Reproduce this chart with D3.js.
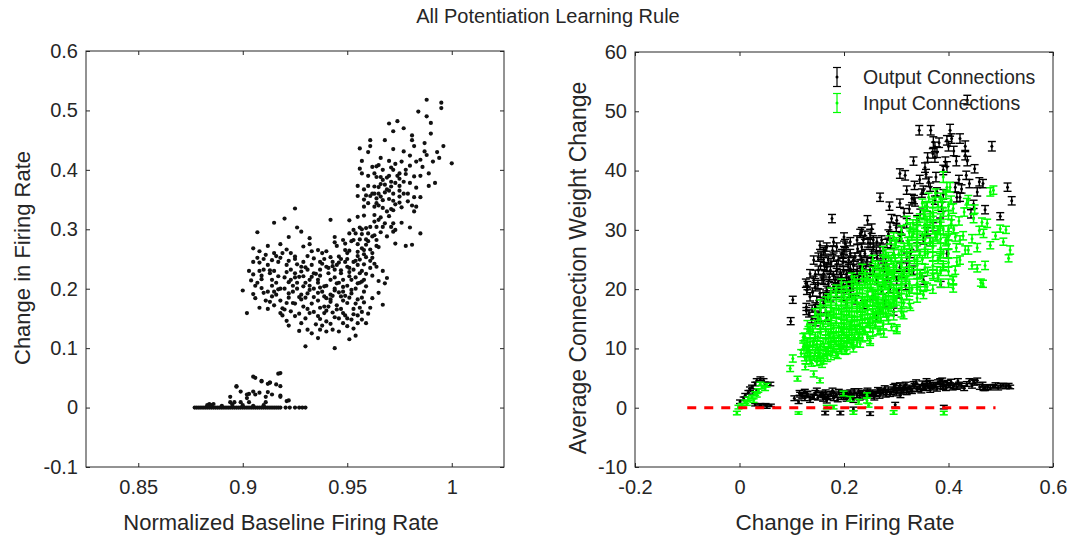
<!DOCTYPE html>
<html><head><meta charset="utf-8">
<script src="https://cdn.jsdelivr.net/npm/d3@7"></script>
<style>
body{margin:0;background:#fff}
svg text{font-family:"Liberation Sans",Arial,Helvetica,sans-serif;fill:#262626}
</style>
</head><body>
<svg id="fig" width="1073" height="539"></svg>
<script>
// ---- Left panel: [normalized baseline firing rate, change in firing rate] ----
const firingPoints = [
[0.988,0.518],[0.995,0.513],[0.995,0.504],[0.984,0.498],[0.988,0.490],[0.990,0.479],[0.970,0.478],[0.974,0.482],[0.972,0.465],[0.977,0.470],[0.981,0.458],[0.990,0.461],[0.961,0.450],[0.968,0.450],[0.981,0.450],[0.961,0.440],[0.956,0.436],[0.982,0.440],[0.987,0.445],[0.972,0.435],[0.977,0.431],[0.980,0.424],[0.987,0.431],[0.988,0.425],[0.976,0.414],[0.985,0.417],[0.994,0.420],[0.991,0.414],[1.000,0.411],[0.965,0.408],[0.964,0.406],[0.980,0.407],[0.983,0.414],[0.956,0.402],[0.957,0.394],[0.962,0.405],[0.967,0.400],[0.971,0.404],[0.972,0.400],[0.975,0.394],[0.978,0.393],[0.982,0.389],[0.989,0.394],[0.992,0.378],[0.989,0.373],[0.963,0.394],[0.964,0.388],[0.966,0.388],[0.967,0.383],[0.969,0.387],[0.971,0.380],[0.973,0.378],[0.975,0.373],[0.971,0.372],[0.969,0.367],[0.966,0.376],[0.965,0.371],[0.963,0.372],[0.960,0.373],[0.955,0.373],[0.958,0.367],[0.955,0.356],[0.959,0.357],[0.961,0.356],[0.964,0.352],[0.966,0.355],[0.967,0.349],[0.970,0.351],[0.972,0.348],[0.975,0.355],[0.979,0.347],[0.982,0.354],[0.985,0.354],[0.981,0.340],[0.983,0.338],[0.982,0.330],[0.964,0.344],[0.965,0.340],[0.960,0.344],[0.958,0.338],[0.963,0.338],[0.976,0.337],[0.971,0.334],[0.972,0.332],[0.925,0.335],
[0.915,0.311],[0.920,0.318],[0.942,0.316],[0.907,0.295],[0.926,0.303],[0.928,0.296],[0.922,0.287],[0.932,0.285],[0.944,0.287],[0.944,0.278],[0.951,0.315],[0.955,0.321],[0.958,0.323],[0.963,0.324],[0.963,0.313],[0.965,0.316],[0.967,0.304],[0.964,0.304],[0.961,0.304],[0.959,0.302],[0.956,0.303],[0.953,0.299],[0.951,0.293],[0.954,0.293],[0.957,0.292],[0.960,0.293],[0.962,0.288],[0.959,0.283],[0.956,0.283],[0.953,0.282],[0.972,0.310],[0.971,0.304],[0.976,0.311],[0.973,0.299],[0.969,0.288],[0.972,0.296],[0.980,0.303],[0.985,0.293],[0.973,0.276],[0.978,0.272],[0.981,0.274],[0.964,0.272],[0.949,0.265],[0.949,0.276],[0.945,0.272],[0.948,0.282],[0.957,0.268],[0.959,0.274],
[0.905,0.268],[0.908,0.263],[0.912,0.272],[0.915,0.260],[0.916,0.255],[0.918,0.275],[0.921,0.266],[0.923,0.260],[0.925,0.254],[0.929,0.271],[0.932,0.275],[0.933,0.263],[0.936,0.265],[0.938,0.260],[0.940,0.263],[0.942,0.253],[0.946,0.254],[0.950,0.260],[0.951,0.264],[0.955,0.255],[0.956,0.249],[0.959,0.253],[0.961,0.247],[0.963,0.242],[0.964,0.237],[0.967,0.230],[0.969,0.218],[0.968,0.209],[0.965,0.193],[0.961,0.168],[0.967,0.173],[0.959,0.142],[0.951,0.115],[0.954,0.121],[0.944,0.100],[0.930,0.103],[0.936,0.117],[0.940,0.128],[0.927,0.129],[0.931,0.131],[0.937,0.131],[0.942,0.141],[0.946,0.128],[0.950,0.137],[0.955,0.142],
[0.902,0.159],[0.900,0.197],[0.905,0.191],[0.905,0.224],[0.909,0.216],[0.909,0.201],[0.908,0.244],[0.910,0.232],[0.912,0.240],[0.913,0.226],[0.912,0.166],[0.918,0.159],[0.919,0.167],[0.921,0.146],[0.925,0.154],[0.914,0.205],[0.915,0.195],[0.914,0.187],[0.916,0.210],[0.918,0.200],[0.920,0.219],[0.922,0.211],[0.922,0.192],[0.924,0.176],[0.928,0.182],[0.929,0.170],[0.932,0.159],[0.936,0.154],[0.939,0.159],[0.937,0.168],[0.941,0.170],[0.945,0.165],[0.948,0.159],[0.953,0.166],[0.957,0.161],[0.950,0.176],[0.947,0.187],[0.944,0.197],[0.948,0.203],[0.952,0.198],[0.955,0.209],[0.958,0.215],[0.959,0.204],[0.956,0.226],[0.953,0.232],[0.950,0.237],[0.947,0.226],[0.944,0.232],[0.940,0.237],[0.937,0.232],[0.934,0.226],[0.931,0.232],[0.928,0.237],[0.925,0.226],[0.923,0.232],[0.926,0.210],[0.929,0.204],[0.932,0.198],[0.936,0.193],[0.939,0.187],[0.942,0.182],[0.939,0.204],[0.936,0.215],[0.932,0.215],[0.929,0.221],[0.942,0.215],[0.945,0.209],[0.948,0.215],[0.951,0.221],
[0.915,0.230],[0.917,0.245],[0.919,0.260],[0.921,0.240],[0.923,0.215],[0.925,0.250],[0.927,0.220],[0.929,0.245],[0.931,0.255],[0.933,0.240],[0.935,0.225],[0.937,0.245],[0.939,0.250],[0.941,0.235],[0.943,0.245],[0.945,0.240],[0.947,0.250],[0.949,0.245],[0.951,0.235],[0.953,0.245],[0.955,0.240],[0.957,0.230],[0.959,0.225],[0.961,0.235],
[0.916,0.190],[0.918,0.180],[0.920,0.200],[0.922,0.185],[0.924,0.195],[0.926,0.200],[0.928,0.190],[0.930,0.210],[0.932,0.205],[0.934,0.200],[0.936,0.210],[0.938,0.195],[0.940,0.205],[0.942,0.190],[0.944,0.200],[0.946,0.210],[0.948,0.195],[0.950,0.205],[0.952,0.215],[0.954,0.200],[0.956,0.210],[0.958,0.195],
[0.920,0.165],[0.925,0.175],[0.930,0.185],[0.933,0.175],[0.936,0.180],[0.939,0.170],[0.942,0.178],[0.945,0.172],[0.948,0.180],[0.951,0.185],[0.954,0.175],[0.957,0.185],[0.943,0.160],[0.946,0.150],[0.949,0.155],[0.952,0.148],[0.940,0.145],[0.935,0.140],[0.930,0.150],[0.955,0.155],
[0.906,0.205],[0.908,0.230],[0.910,0.250],[0.912,0.195],[0.914,0.215],[0.911,0.180],[0.905,0.245],[0.907,0.210],[0.903,0.230],
[0.962,0.260],[0.965,0.270],[0.960,0.280],[0.958,0.265],[0.963,0.290],[0.957,0.300],[0.955,0.275],[0.952,0.280],
[0.966,0.320],[0.969,0.330],[0.972,0.360],[0.975,0.365],[0.977,0.380],[0.979,0.360],[0.968,0.375],[0.970,0.390],[0.973,0.410],[0.960,0.390],[0.963,0.360],[0.958,0.350],[0.975,0.345],[0.983,0.370],
[0.907,0.252],[0.911,0.257],[0.914,0.248],[0.918,0.252],[0.922,0.247],[0.926,0.241],[0.930,0.236],[0.934,0.251],[0.938,0.242],[0.943,0.238],[0.946,0.244],[0.950,0.250],[0.954,0.247],[0.958,0.241],[0.962,0.252],
[0.904,0.214],[0.909,0.222],[0.913,0.231],[0.917,0.221],[0.921,0.228],[0.925,0.219],[0.928,0.229],[0.933,0.220],[0.937,0.222],[0.941,0.226],[0.944,0.219],[0.947,0.231],[0.951,0.228],[0.954,0.219],[0.957,0.212],[0.962,0.222],[0.965,0.213],
[0.906,0.184],[0.910,0.193],[0.913,0.178],[0.917,0.199],[0.921,0.176],[0.924,0.205],[0.927,0.186],[0.931,0.192],[0.934,0.186],[0.937,0.202],[0.940,0.184],[0.943,0.188],[0.946,0.194],[0.949,0.188],[0.952,0.192],[0.955,0.182],[0.958,0.177],[0.962,0.184],
[0.908,0.168],[0.915,0.172],[0.919,0.155],[0.923,0.162],[0.927,0.158],[0.931,0.166],[0.934,0.161],[0.937,0.149],[0.940,0.163],[0.944,0.152],[0.947,0.166],[0.950,0.150],[0.953,0.157],[0.956,0.168],[0.960,0.158],
[0.922,0.138],[0.928,0.142],[0.933,0.125],[0.938,0.138],[0.943,0.131],[0.948,0.142],[0.953,0.133],[0.957,0.148],
[0.955,0.262],[0.958,0.258],[0.961,0.266],[0.964,0.282],[0.966,0.295],[0.968,0.310],[0.970,0.322],[0.967,0.336],[0.973,0.342],[0.977,0.360],[0.980,0.378],[0.985,0.390],[0.978,0.400],[0.974,0.390],[0.968,0.362],[0.962,0.360],[0.965,0.360],[0.970,0.365],[0.975,0.385],[0.986,0.405],[0.993,0.430],[0.996,0.440],[0.970,0.415],[0.966,0.420],[0.960,0.430],[0.957,0.415],
// small group just above zero
[0.905,0.052],[0.917,0.057],[0.909,0.044],[0.912,0.040],[0.913,0.042],[0.916,0.039],[0.918,0.036],[0.897,0.036],[0.899,0.027],[0.903,0.023],[0.905,0.027],[0.906,0.022],[0.908,0.025],[0.912,0.026],[0.914,0.022],[0.918,0.020],[0.894,0.018],[0.911,0.018],[0.894,0.009],[0.896,0.009],[0.899,0.009],[0.903,0.009],[0.911,0.009],[0.921,0.011],[0.884,0.006],[0.886,0.006],[0.902,0.016],[0.906,0.050],[0.909,0.045],[0.918,0.058],[0.897,0.035],[0.913,0.042],[0.902,0.022],[0.922,0.012],[0.918,0.018],
// cells with no change
[0.877,0],[0.878,0],[0.879,0],[0.880,0],[0.881,0],[0.882,0],[0.883,0],[0.884,0],[0.885,0],[0.886,0],[0.887,0],[0.888,0],[0.889,0],[0.890,0],[0.891,0],[0.892,0],[0.893,0],[0.894,0],[0.895,0],[0.896,0],[0.897,0],[0.898,0],[0.899,0],[0.900,0],[0.901,0],[0.902,0],[0.903,0],[0.904,0],[0.905,0],[0.906,0],[0.907,0],[0.908,0],[0.909,0],[0.910,0],[0.911,0],[0.912,0],[0.913,0],[0.914,0],[0.915,0],[0.916,0],[0.917,0],[0.918,0],[0.9205,0],[0.9225,0],[0.925,0],[0.927,0],[0.9285,0],[0.930,0],
[0.883,0.004],[0.885,0.004],[0.890,0.003],[0.895,0.005],[0.900,0.004],[0.905,0.003],[0.910,0.004]
];
const leftXTicks = [0.85, 0.9, 0.95, 1];
const leftXTickLabels = ["0.85", "0.9", "0.95", "1"];
const leftYTicks = [-0.1, 0, 0.1, 0.2, 0.3, 0.4, 0.5, 0.6];
const leftYTickLabels = ["-0.1", "0", "0.1", "0.2", "0.3", "0.4", "0.5", "0.6"];

// ---- Right panel: [change in firing rate, mean weight change, error] ----
const outputConn = [
[0.001,1.0,0.3],[0.008,1.5,0.3],[0.011,2.1,0.3],[0.017,2.6,0.3],[0.020,3.2,0.3],[0.024,3.5,0.3],[0.030,4.0,0.3],[0.033,4.6,0.3],[0.040,4.9,0.3],[0.046,4.6,0.3],[0.059,4.0,0.3],[0.049,4.0,0.3],[0.027,2.4,0.3],[0.033,2.9,0.3],[0.030,0.5,0.2],[0.040,0.4,0.2],[0.050,0.5,0.2],[0.060,0.4,0.2],
[0.113,1.0,0.3],[0.116,2.2,0.4],[0.129,2.4,0.4],[0.142,1.8,0.4],[0.161,2.1,0.4],[0.167,1.2,0.4],[0.180,2.4,0.4],[0.199,1.8,0.4],[0.212,2.6,0.4],[0.218,2.1,0.4],[0.231,2.4,0.4],[0.244,2.6,0.4],[0.256,2.4,0.4],[0.269,2.9,0.4],[0.282,2.6,0.4],[0.295,3.5,0.4],[0.301,2.9,0.4],[0.307,3.8,0.4],[0.314,2.9,0.4],[0.320,2.6,0.4],[0.333,4.0,0.4],[0.340,3.2,0.4],[0.352,3.5,0.4],[0.359,4.0,0.4],[0.365,3.0,0.4],[0.371,3.8,0.4],[0.384,4.5,0.4],[0.390,3.5,0.4],[0.403,3.8,0.4],[0.416,3.5,0.4],[0.448,4.4,0.4],[0.467,3.2,0.3],[0.486,3.6,0.3],[0.505,3.8,0.3],[0.518,3.5,0.3],
[0.120,2.0,0.4],[0.125,1.6,0.4],[0.130,2.3,0.4],[0.140,1.9,0.4],[0.145,2.5,0.4],[0.150,1.7,0.4],[0.155,2.2,0.4],[0.160,1.5,0.4],[0.165,2.6,0.4],[0.170,1.9,0.4],[0.175,2.3,0.4],[0.180,1.6,0.4],[0.185,2.1,0.4],[0.190,2.7,0.4],[0.195,1.8,0.4],[0.200,2.2,0.4],[0.205,1.5,0.4],[0.210,2.4,0.4],[0.215,1.9,0.4],[0.220,2.8,0.4],[0.225,2.1,0.4],[0.230,1.7,0.4],[0.235,2.5,0.4],[0.240,2.2,0.4],[0.245,2.9,0.4],[0.250,2.0,0.4],[0.255,2.6,0.4],[0.260,2.3,0.4],[0.265,3.0,0.4],[0.270,2.4,0.4],[0.275,2.7,0.4],[0.280,2.2,0.4],[0.285,3.1,0.4],[0.290,2.6,0.4],[0.295,2.9,0.4],[0.300,2.4,0.4],[0.305,3.3,0.4],[0.310,2.7,0.4],[0.315,3.6,0.4],[0.320,3.0,0.4],[0.325,3.4,0.4],[0.330,2.8,0.4],[0.335,3.7,0.4],[0.340,3.1,0.4],[0.345,3.5,0.4],[0.350,4.1,0.4],[0.355,3.3,0.4],[0.360,3.7,0.4],[0.365,4.2,0.4],[0.370,3.4,0.4],[0.375,3.9,0.4],[0.380,4.3,0.4],[0.385,3.6,0.4],[0.390,4.0,0.4],[0.395,3.3,0.4],[0.400,3.8,0.4],[0.405,4.4,0.4],[0.410,3.6,0.4],[0.420,3.9,0.4],[0.430,3.3,0.4],[0.440,4.5,0.4],[0.450,4.2,0.4],[0.460,3.5,0.4],[0.470,3.3,0.4],[0.480,3.4,0.4],[0.490,3.8,0.4],[0.500,3.7,0.4],[0.510,3.6,0.4],
[0.105,1.6,0.4],[0.115,2.5,0.4],[0.125,2.7,0.4],[0.135,1.3,0.4],[0.148,2.9,0.4],[0.158,2.4,0.4],[0.168,1.8,0.4],[0.178,2.9,0.4],[0.188,1.4,0.4],[0.198,2.5,0.4],[0.208,2.0,0.4],[0.218,1.3,0.4],[0.228,2.8,0.4],[0.238,1.9,0.4],[0.248,2.4,0.4],[0.258,1.7,0.4],[0.268,2.0,0.4],[0.278,3.3,0.4],[0.288,2.3,0.4],[0.298,3.7,0.4],[0.308,2.1,0.4],[0.318,3.9,0.4],[0.328,3.1,0.4],[0.338,4.3,0.4],[0.348,2.9,0.4],[0.358,4.5,0.4],[0.368,3.6,0.4],[0.378,3.2,0.4],[0.388,4.6,0.4],[0.398,4.2,0.4],[0.408,3.4,0.4],[0.418,4.5,0.4],[0.425,3.7,0.4],[0.435,4.0,0.4],[0.445,3.7,0.4],[0.455,4.6,0.4],[0.465,3.9,0.4],[0.475,3.5,0.4],[0.495,3.4,0.4],[0.515,3.7,0.4],
[0.298,0.5,0.4],[0.391,0.1,0.3],[0.164,-0.9,0.3],[0.193,-0.9,0.3],[0.250,-1.0,0.3],[0.218,-0.2,0.3],[0.040,0.4,0.3],[0.052,0.2,0.3],
[0.098,14.6,0.6],[0.102,18.2,0.6],[0.130,20.6,0.7],[0.129,19.8,0.7],[0.128,17.0,0.6],[0.139,16.7,0.6],[0.133,15.9,0.6],[0.177,31.9,0.7],[0.164,26.6,0.7],[0.156,25.7,0.7],[0.186,27.1,0.7],[0.200,28.8,0.7],[0.204,27.1,0.7],[0.231,29.4,0.7],[0.245,31.6,0.8],[0.253,30.2,0.8],[0.237,28.3,0.7],[0.256,28.3,0.7],[0.269,35.5,0.7],[0.287,34.0,0.7],[0.291,31.9,0.7],[0.307,34.5,0.7],[0.307,39.5,0.8],[0.317,39.2,0.8],[0.333,41.6,0.7],[0.344,46.8,0.8],[0.366,46.8,0.8],[0.371,44.8,0.9],[0.374,44.0,0.8],[0.378,43.1,0.9],[0.370,42.9,0.8],[0.374,42.3,0.9],[0.357,39.4,0.8],[0.362,38.1,0.8],[0.352,36.7,0.7],[0.349,36.2,0.7],[0.330,35.3,0.7],[0.336,34.7,0.7],[0.378,36.4,0.7],[0.374,35.0,0.7],[0.394,41.5,0.8],[0.397,40.6,0.9],[0.403,46.8,1.0],[0.397,45.1,0.8],[0.406,45.4,0.8],[0.422,45.4,0.8],[0.415,41.6,0.8],[0.432,44.1,0.9],[0.432,42.6,0.8],[0.436,41.6,0.8],[0.450,40.3,0.7],[0.434,39.2,0.7],[0.413,37.2,0.8],[0.416,35.5,0.8],[0.422,35.5,0.7],[0.448,34.3,0.7],[0.443,32.7,0.7],[0.459,38.1,0.7],[0.466,37.8,0.7],[0.483,44.1,0.8],[0.513,37.2,0.7],[0.521,34.9,0.7],[0.499,32.3,0.6],[0.390,36.0,0.8],[0.387,33.9,0.8],[0.359,33.9,0.8],[0.346,32.7,0.8],[0.340,31.6,0.8],[0.320,31.1,0.8],[0.301,31.6,0.8],[0.288,30.5,0.8],[0.307,28.8,0.7],[0.295,26.0,0.7],[0.276,23.7,0.7],[0.253,26.0,0.7],[0.234,24.9,0.7],[0.218,24.9,0.7],[0.385,20.8,0.5],[0.397,26.0,0.7],[0.320,25.4,0.7],[0.307,23.7,0.7],[0.436,51.9,0.8],
[0.151,23.2,0.7],[0.161,22.6,0.7],[0.167,23.7,0.7],[0.174,23.2,0.7],[0.180,22.3,0.7],[0.186,23.2,0.7],[0.193,22.6,0.7],[0.199,23.2,0.7],[0.205,22.6,0.7],[0.212,23.5,0.7],[0.218,22.6,0.7],[0.225,23.2,0.7],[0.231,23.7,0.7],[0.237,23.2,0.7],[0.244,22.6,0.7],[0.250,23.2,0.7],[0.161,21.5,0.7],[0.170,20.9,0.7],[0.180,20.4,0.7],[0.189,21.2,0.7],[0.199,20.7,0.7],[0.209,21.5,0.7],[0.218,20.9,0.7],[0.228,21.5,0.7],[0.154,19.3,0.7],[0.167,19.8,0.7],[0.148,18.1,0.7],[0.161,17.6,0.7],[0.142,24.9,0.7],[0.151,25.4,0.7],[0.161,24.6,0.7],[0.170,24.9,0.7],[0.180,25.4,0.7],[0.189,24.9,0.7],[0.199,25.4,0.7],[0.209,24.9,0.7],[0.196,26.0,0.7],[0.212,26.0,0.7],[0.221,25.4,0.7],[0.231,25.7,0.7],[0.240,26.0,0.7],[0.244,24.9,0.7],[0.263,25.4,0.7],[0.269,27.1,0.7],[0.256,27.1,0.7],[0.272,28.3,0.7],[0.282,27.7,0.7],[0.250,27.7,0.7],[0.234,27.1,0.7],[0.154,27.4,0.7],[0.161,26.3,0.7],[0.167,27.1,0.7],[0.180,28.0,0.7],[0.202,27.7,0.7],[0.212,28.0,0.7],[0.225,28.3,0.7],[0.234,29.7,0.7],[0.240,29.1,0.7],[0.250,29.4,0.7],[0.263,28.0,0.7],
[0.142,21.5,0.7],[0.145,20.4,0.7],[0.135,18.7,0.7],[0.145,17.0,0.7],[0.154,16.2,0.7],[0.167,15.3,0.7],[0.151,15.3,0.7],[0.161,18.7,0.7],[0.174,18.7,0.7],[0.186,19.3,0.7],[0.199,18.7,0.7],[0.212,19.3,0.7],[0.263,21.5,0.7],[0.282,22.1,0.7],[0.295,22.6,0.7],[0.301,21.5,0.7],[0.314,22.6,0.7],[0.320,23.7,0.7],[0.333,23.2,0.7],[0.346,22.6,0.7],[0.352,21.5,0.7],[0.327,26.0,0.7],[0.340,27.1,0.7],[0.352,28.3,0.7],[0.359,29.7,0.7],[0.371,30.5,0.7],[0.384,31.3,0.7],[0.365,28.0,0.7],[0.295,16.2,0.6],[0.269,16.4,0.6],[0.320,36.7,0.7],[0.334,35.1,0.7],
[0.145,22.5,0.7],[0.150,20.8,0.7],[0.155,24.0,0.7],[0.158,21.7,0.7],[0.163,23.8,0.7],[0.166,19.0,0.7],[0.172,22.0,0.7],[0.175,24.5,0.7],[0.178,26.5,0.7],[0.183,21.5,0.7],[0.186,24.2,0.7],[0.190,20.2,0.7],[0.195,22.2,0.7],[0.198,24.5,0.7],[0.200,26.5,0.7],[0.205,21.2,0.7],[0.208,23.8,0.7],[0.212,20.3,0.7],[0.215,22.3,0.7],[0.218,24.0,0.7],[0.222,21.8,0.7],[0.226,26.8,0.7],[0.230,22.3,0.7],[0.233,24.2,0.7],[0.238,21.9,0.7],[0.242,23.9,0.7],[0.246,27.8,0.7],[0.252,24.5,0.7],[0.258,23.2,0.7],[0.262,26.4,0.7],[0.266,24.1,0.7],[0.270,25.8,0.7],[0.275,26.5,0.7],[0.280,24.6,0.7],[0.285,29.3,0.7],[0.290,27.5,0.7],[0.300,30.4,0.7],[0.310,29.8,0.7],[0.315,32.9,0.7],[0.325,33.5,0.7],[0.335,37.5,0.7],[0.345,38.5,0.7],[0.355,40.5,0.8],[0.360,42.2,0.8],[0.365,37.2,0.7],[0.376,38.9,0.8],[0.382,44.7,0.8],[0.390,40.1,0.8],[0.400,44.1,0.8],[0.410,43.3,0.8],[0.420,38.5,0.7],[0.425,36.9,0.7],[0.440,37.8,0.7],[0.455,36.4,0.7],[0.470,33.4,0.7],[0.140,19.5,0.7],[0.135,22.6,0.7],[0.127,21.0,0.7],[0.128,16.3,0.6],[0.138,14.9,0.6],[0.146,14.4,0.6],
[0.205,17.5,0.7],[0.222,18.2,0.7],[0.238,17.4,0.7],[0.255,18.9,0.7],[0.272,19.8,0.7],[0.288,20.1,0.7],[0.305,19.2,0.7],[0.318,20.6,0.7],[0.262,15.1,0.6],[0.278,17.6,0.6]
];
const inputConn = [
[-0.005,-0.9,0.3],[-0.002,0.1,0.3],[0.004,0.4,0.3],[0.011,1.0,0.3],[0.017,1.5,0.3],[0.024,1.8,0.3],[0.030,2.4,0.3],[0.036,2.9,0.3],[0.043,3.5,0.3],[0.049,3.2,0.3],[0.040,4.0,0.3],[0.052,3.8,0.3],[0.014,0.7,0.3],[0.027,1.2,0.3],[0.033,2.1,0.3],
[0.113,-0.9,0.2],[0.167,0.1,0.3],[0.218,-0.8,0.3],[0.247,0.4,0.3],[0.295,-0.8,0.3],[0.391,-0.9,0.3],[0.228,1.0,0.4],[0.244,1.2,0.4],[0.199,2.4,0.4],[0.212,1.5,0.4],[0.244,2.1,0.4],[0.180,0.1,0.3],
[0.097,6.6,0.5],[0.102,8.3,0.6],[0.111,4.9,0.4],[0.126,6.9,0.5],[0.142,5.7,0.5],[0.154,4.6,0.4],[0.129,10.0,0.6],[0.122,11.9,0.6],[0.132,13.1,0.6],[0.142,11.1,0.6],[0.154,9.1,0.6],[0.161,8.0,0.6],[0.167,9.7,0.6],[0.148,7.7,0.6],[0.174,10.6,0.6],[0.180,11.9,0.6],[0.193,10.6,0.6],[0.205,9.7,0.6],[0.218,10.0,0.6],[0.250,11.1,0.6],[0.269,13.1,0.6],[0.301,13.4,0.6],[0.314,15.6,0.6],[0.327,17.0,0.6],[0.352,19.0,0.6],[0.409,21.5,0.6],[0.409,20.1,0.6],[0.466,20.9,0.6],
[0.130,9.5,0.7],[0.130,11.0,0.7],[0.135,12.5,0.7],[0.130,14.0,0.7],[0.140,10.5,0.7],[0.140,13.0,0.7],
[0.150,8.5,0.7],[0.150,10.0,0.7],[0.150,12.0,0.7],[0.155,13.5,0.7],[0.150,15.0,0.7],[0.155,16.5,0.7],[0.160,9.0,0.7],[0.160,11.0,0.7],[0.160,14.0,0.7],
[0.170,9.5,0.7],[0.170,11.0,0.7],[0.170,12.5,0.7],[0.175,14.0,0.7],[0.170,15.5,0.7],[0.175,17.0,0.7],[0.170,18.5,0.7],[0.180,10.0,0.7],[0.180,12.0,0.7],[0.180,13.5,0.7],[0.180,16.0,0.7],[0.185,19.0,0.7],
[0.190,10.5,0.7],[0.190,12.0,0.7],[0.190,13.5,0.7],[0.195,15.0,0.7],[0.190,16.5,0.7],[0.195,18.0,0.7],[0.200,11.0,0.7],[0.200,12.5,0.7],[0.200,14.0,0.7],[0.200,15.5,0.7],[0.205,17.0,0.7],[0.200,19.0,0.7],[0.205,20.5,0.7],
[0.210,11.5,0.7],[0.210,13.0,0.7],[0.215,14.5,0.7],[0.210,16.0,0.7],[0.215,17.5,0.7],[0.210,19.0,0.7],[0.220,12.0,0.7],[0.220,14.0,0.7],[0.220,15.5,0.7],[0.225,17.0,0.7],[0.220,18.5,0.7],[0.225,20.0,0.7],[0.220,21.5,0.7],
[0.230,12.5,0.7],[0.230,14.0,0.7],[0.235,15.5,0.7],[0.230,17.0,0.7],[0.235,18.5,0.7],[0.230,20.0,0.7],[0.240,13.0,0.7],[0.240,15.0,0.7],[0.245,16.5,0.7],[0.240,18.0,0.7],[0.245,19.5,0.7],[0.240,21.0,0.7],[0.240,22.5,0.7],
[0.250,13.5,0.7],[0.250,15.0,0.7],[0.255,16.5,0.7],[0.250,18.0,0.7],[0.255,19.5,0.7],[0.250,21.0,0.7],[0.260,14.0,0.7],[0.260,16.0,0.7],[0.265,17.5,0.7],[0.260,19.0,0.7],[0.265,20.5,0.7],[0.260,22.0,0.7],[0.260,24.0,0.7],
[0.270,15.0,0.7],[0.270,17.0,0.7],[0.275,18.5,0.7],[0.270,20.0,0.7],[0.275,21.5,0.7],[0.270,23.0,0.7],[0.280,16.0,0.7],[0.280,18.0,0.7],[0.285,19.5,0.7],[0.280,21.0,0.7],[0.285,22.5,0.7],[0.280,24.0,0.7],[0.280,26.0,0.7],
[0.291,13.6,0.6],[0.290,17.0,0.7],[0.295,19.0,0.7],[0.290,21.0,0.7],[0.295,23.0,0.7],[0.290,25.0,0.7],[0.300,18.0,0.7],[0.300,20.0,0.7],[0.305,22.0,0.7],[0.300,24.0,0.7],[0.305,26.0,0.7],[0.300,28.0,0.7],
[0.310,17.0,0.7],[0.310,21.0,0.7],[0.315,23.0,0.7],[0.310,25.0,0.7],[0.315,27.0,0.7],[0.320,19.0,0.7],[0.320,22.0,0.7],[0.325,24.0,0.7],[0.320,26.0,0.7],[0.330,20.0,0.7],[0.330,23.0,0.7],[0.335,25.0,0.7],[0.330,27.0,0.7],[0.330,29.0,0.7],[0.340,21.0,0.7],[0.340,24.0,0.7],[0.345,26.0,0.7],[0.340,28.0,0.7],[0.340,30.0,0.7],
[0.350,22.0,0.7],[0.350,25.0,0.7],[0.355,27.0,0.7],[0.350,29.0,0.7],[0.355,31.0,0.7],[0.360,23.0,0.7],[0.360,26.0,0.7],[0.365,28.0,0.7],[0.360,30.0,0.7],[0.365,32.0,0.7],[0.370,24.0,0.7],[0.370,27.0,0.7],[0.375,29.0,0.7],[0.370,31.0,0.7],[0.370,33.0,0.7],[0.380,22.0,0.7],[0.380,25.0,0.7],[0.385,27.0,0.7],[0.380,30.0,0.7],[0.385,32.0,0.7],[0.380,34.0,0.7],[0.390,24.0,0.7],[0.390,26.0,0.7],[0.395,28.0,0.7],[0.390,30.0,0.7],[0.390,33.0,0.7],[0.400,23.0,0.7],[0.400,26.0,0.7],[0.400,29.0,0.7],[0.405,31.0,0.7],
[0.390,38.9,0.9],[0.403,37.2,0.8],[0.406,31.6,0.8],[0.409,33.6,0.8],[0.413,28.8,0.7],[0.422,28.3,0.7],[0.432,26.6,0.7],[0.438,26.6,0.7],[0.435,34.5,0.8],[0.438,35.0,0.8],[0.448,31.9,0.7],[0.459,29.9,0.7],[0.467,29.4,0.7],[0.464,31.3,0.7],[0.474,31.1,0.7],[0.480,36.4,0.7],[0.486,36.7,0.7],[0.499,30.2,0.6],[0.480,27.4,0.6],[0.505,28.0,0.6],[0.518,26.6,0.7],[0.515,25.2,0.6],[0.462,21.1,0.6],[0.413,23.2,0.7],[0.416,24.6,0.7],[0.422,24.9,0.7],[0.409,21.5,0.7],[0.378,28.8,0.7],[0.384,29.9,0.7],[0.397,28.3,0.7],[0.359,31.6,0.7],[0.371,32.2,0.7],[0.352,32.7,0.7],[0.340,30.5,0.7],[0.359,33.9,0.7],[0.397,37.2,0.8],
[0.295,28.8,0.7],[0.288,28.3,0.7],[0.298,27.7,0.7],[0.327,30.5,0.7],[0.320,31.6,0.7],[0.333,29.4,0.7],
[0.295,18.1,0.6],[0.314,17.6,0.6],[0.269,17.0,0.6],[0.282,15.3,0.6],[0.301,13.1,0.6],[0.276,12.5,0.6],[0.250,11.4,0.6],[0.231,10.8,0.6],[0.346,19.8,0.6],[0.359,20.4,0.6],[0.371,22.1,0.6],[0.346,22.6,0.6],[0.378,23.2,0.6],[0.390,23.7,0.6],[0.384,25.4,0.6],
[0.125,8.5,0.6],[0.125,10.5,0.6],[0.125,12.0,0.6],[0.135,9.0,0.6],[0.135,11.0,0.6],[0.135,13.5,0.6],[0.135,8.0,0.6],[0.145,9.5,0.7],[0.145,12.0,0.7],[0.145,14.0,0.7],[0.145,16.0,0.7],
[0.155,8.0,0.7],[0.155,10.5,0.7],[0.155,12.5,0.7],[0.155,15.0,0.7],[0.155,17.5,0.7],[0.165,9.5,0.7],[0.165,11.5,0.7],[0.165,13.0,0.7],[0.165,14.8,0.7],[0.165,16.5,0.7],[0.165,18.0,0.7],
[0.175,8.8,0.7],[0.175,10.3,0.7],[0.175,11.8,0.7],[0.175,13.2,0.7],[0.175,15.0,0.7],[0.175,16.2,0.7],[0.175,18.0,0.7],[0.175,19.5,0.7],[0.185,9.2,0.7],[0.185,11.0,0.7],[0.185,12.8,0.7],[0.185,14.5,0.7],[0.185,15.8,0.7],[0.185,17.5,0.7],[0.185,20.0,0.7],
[0.195,9.8,0.7],[0.195,11.5,0.7],[0.195,13.0,0.7],[0.195,14.2,0.7],[0.195,16.0,0.7],[0.195,17.2,0.7],[0.195,19.5,0.7],[0.195,21.0,0.7],[0.205,10.5,0.7],[0.205,12.0,0.7],[0.205,13.4,0.7],[0.205,15.0,0.7],[0.205,16.3,0.7],[0.205,18.0,0.7],[0.205,19.8,0.7],
[0.215,10.8,0.7],[0.215,12.5,0.7],[0.215,13.8,0.7],[0.215,15.5,0.7],[0.215,17.0,0.7],[0.215,18.5,0.7],[0.215,20.5,0.7],[0.215,22.0,0.7],[0.225,11.0,0.7],[0.225,13.0,0.7],[0.225,14.7,0.7],[0.225,16.0,0.7],[0.225,17.8,0.7],[0.225,19.5,0.7],[0.225,21.0,0.7],
[0.235,11.8,0.7],[0.235,13.5,0.7],[0.235,15.0,0.7],[0.235,16.8,0.7],[0.235,18.0,0.7],[0.235,20.0,0.7],[0.235,21.8,0.7],[0.235,23.5,0.7],[0.245,12.0,0.7],[0.245,14.2,0.7],[0.245,15.8,0.7],[0.245,17.2,0.7],[0.245,19.0,0.7],[0.245,20.8,0.7],[0.245,22.0,0.7],
[0.255,12.8,0.7],[0.255,14.5,0.7],[0.255,16.0,0.7],[0.255,17.8,0.7],[0.255,19.2,0.7],[0.255,21.5,0.7],[0.255,23.0,0.7],[0.255,25.0,0.7],[0.265,13.0,0.7],[0.265,15.2,0.7],[0.265,16.8,0.7],[0.265,18.5,0.7],[0.265,20.0,0.7],[0.265,21.8,0.7],[0.265,24.0,0.7],
[0.275,14.0,0.7],[0.275,16.0,0.7],[0.275,17.5,0.7],[0.275,19.2,0.7],[0.275,21.0,0.7],[0.275,22.5,0.7],[0.275,24.8,0.7],[0.275,26.5,0.7],[0.285,14.8,0.7],[0.285,16.5,0.7],[0.285,18.2,0.7],[0.285,20.0,0.7],[0.285,21.8,0.7],[0.285,23.5,0.7],[0.285,25.5,0.7],
[0.295,15.5,0.7],[0.295,17.8,0.7],[0.295,20.0,0.7],[0.295,22.0,0.7],[0.295,24.0,0.7],[0.295,26.0,0.7],[0.310,16.0,0.7],[0.310,18.5,0.7],[0.310,20.0,0.7],[0.310,22.5,0.7],[0.310,24.0,0.7],[0.310,26.5,0.7],[0.310,28.5,0.7],[0.310,30.0,0.7],
[0.325,17.5,0.7],[0.325,19.5,0.7],[0.325,21.0,0.7],[0.325,23.0,0.7],[0.325,25.5,0.7],[0.325,27.5,0.7],[0.325,29.5,0.7],[0.340,18.5,0.7],[0.340,20.0,0.7],[0.340,22.5,0.7],[0.340,25.0,0.7],[0.340,27.0,0.7],[0.340,29.0,0.7],[0.340,31.5,0.7],
[0.355,20.5,0.7],[0.355,23.5,0.7],[0.355,26.0,0.7],[0.355,28.5,0.7],[0.355,30.0,0.7],[0.355,32.5,0.7],[0.355,34.0,0.7],[0.370,20.0,0.7],[0.370,22.5,0.7],[0.370,25.5,0.7],[0.370,28.0,0.7],[0.370,30.0,0.7],[0.370,34.5,0.7],
[0.385,21.0,0.7],[0.385,23.0,0.7],[0.385,26.0,0.7],[0.385,28.5,0.7],[0.385,31.0,0.7],[0.385,35.5,0.7],[0.400,21.0,0.7],[0.400,24.5,0.7],[0.400,27.5,0.7],[0.400,30.0,0.7],[0.400,32.5,0.7],[0.400,34.0,0.7],
[0.118,9.2,0.6],[0.122,10.3,0.6],[0.128,8.0,0.6],[0.133,9.9,0.6],[0.138,7.6,0.6],[0.143,8.6,0.6],[0.148,10.8,0.6],[0.152,9.3,0.6],[0.158,7.4,0.6],[0.162,10.2,0.6],[0.168,8.4,0.6],[0.172,12.2,0.6],[0.178,9.4,0.6],[0.182,11.2,0.6],[0.188,8.9,0.6],[0.192,10.0,0.6],[0.198,12.8,0.6],[0.202,9.6,0.6],[0.208,11.6,0.6],[0.212,14.0,0.6],[0.218,11.0,0.6],[0.222,13.3,0.6],[0.228,12.0,0.6],[0.232,15.5,0.6],[0.238,13.0,0.6],[0.242,17.6,0.6],[0.248,14.5,0.6],[0.252,20.2,0.6],[0.258,15.6,0.6],[0.262,18.1,0.6],[0.268,22.5,0.6],[0.272,16.5,0.6],[0.278,20.6,0.6],[0.282,23.0,0.6],[0.288,17.4,0.6],[0.292,22.4,0.6],[0.298,25.2,0.6],[0.302,19.5,0.6],[0.318,21.5,0.6],[0.322,28.0,0.7],[0.332,31.0,0.7],[0.345,32.0,0.7],[0.350,34.5,0.7],[0.362,35.5,0.7],[0.375,36.2,0.7],[0.388,34.5,0.7],[0.395,36.0,0.7],[0.405,35.0,0.7],[0.410,30.0,0.7],[0.415,27.0,0.7],[0.420,31.5,0.7],[0.428,29.0,0.7],[0.430,33.0,0.7],[0.445,28.5,0.7],[0.450,33.5,0.7],[0.455,27.0,0.7],[0.470,24.0,0.7],[0.490,29.0,0.6],[0.510,30.0,0.6],[0.445,24.0,0.6],[0.455,23.5,0.6]
];
const rightXTicks = [-0.2, 0, 0.2, 0.4, 0.6];
const rightXTickLabels = ["-0.2", "0", "0.2", "0.4", "0.6"];
const rightYTicks = [-10, 0, 10, 20, 30, 40, 50, 60];
const rightYTickLabels = ["-10", "0", "10", "20", "30", "40", "50", "60"];
const zeroLineX = [-0.1, 0.49];
const zeroLineY = [0, 0];
const seriesNames = ["Output Connections", "Input Connections"];
const seriesColors = ["#000000", "#00ff00"];

const svg = d3.select("#fig");
const axisColor = "#262626";

function drawFrame(x, y, xTicks, xLabels, yTicks, yLabels) {
  const [l, r] = x.range();
  const [b, t] = y.range();
  const g = svg.append("g");
  const fmtX = d => xLabels[xTicks.indexOf(d)];
  const fmtY = d => yLabels[yTicks.indexOf(d)];
  const bottom = g.append("g").attr("transform", `translate(0,${b})`)
    .call(d3.axisBottom(x).tickValues(xTicks).tickFormat(fmtX).tickSizeInner(-4).tickSizeOuter(0).tickPadding(13));
  const top = g.append("g").attr("transform", `translate(0,${t})`)
    .call(d3.axisTop(x).tickValues(xTicks).tickFormat("").tickSizeInner(-4).tickSizeOuter(0));
  const left = g.append("g").attr("transform", `translate(${l},0)`)
    .call(d3.axisLeft(y).tickValues(yTicks).tickFormat(fmtY).tickSizeInner(-4).tickSizeOuter(0).tickPadding(8));
  const right = g.append("g").attr("transform", `translate(${r},0)`)
    .call(d3.axisRight(y).tickValues(yTicks).tickFormat("").tickSizeInner(-4).tickSizeOuter(0));
  [bottom, top, left, right].forEach(a => {
    a.select(".domain").remove();
    a.selectAll("line").attr("stroke", axisColor);
    a.selectAll("text").attr("font-size", 20).attr("fill", axisColor)
      .attr("font-family", '"Liberation Sans",Arial,sans-serif');
  });
  g.append("rect").attr("x", l).attr("y", t).attr("width", r - l).attr("height", b - t)
    .attr("fill", "none").attr("stroke", axisColor).attr("stroke-width", 1);
}

// Left scatter
const xL = d3.scaleLinear().domain([0.825, 1.025]).range([86, 504]);
const yL = d3.scaleLinear().domain([-0.1, 0.6]).range([467, 51]);
svg.append("g").selectAll("circle").data(firingPoints).join("circle")
  .attr("cx", d => xL(d[0])).attr("cy", d => yL(d[1])).attr("r", 2.1).attr("fill", "#111");
drawFrame(xL, yL, leftXTicks, leftXTickLabels, leftYTicks, leftYTickLabels);

// Right error-bar scatter
const xR = d3.scaleLinear().domain([-0.2, 0.6]).range([635, 1053]);
const yR = d3.scaleLinear().domain([-10, 60]).range([467, 52]);
const cap = 4;
function errorSeries(data, color, width) {
  const g = svg.append("g").attr("stroke", color).attr("fill", color).attr("stroke-width", width);
  const s = g.selectAll("g").data(data).join("g");
  s.append("line").attr("x1", d => xR(d[0])).attr("x2", d => xR(d[0]))
    .attr("y1", d => yR(d[1] - d[2])).attr("y2", d => yR(d[1] + d[2]));
  s.append("line").attr("x1", d => xR(d[0]) - cap).attr("x2", d => xR(d[0]) + cap)
    .attr("y1", d => yR(d[1] + d[2])).attr("y2", d => yR(d[1] + d[2]));
  s.append("line").attr("x1", d => xR(d[0]) - cap).attr("x2", d => xR(d[0]) + cap)
    .attr("y1", d => yR(d[1] - d[2])).attr("y2", d => yR(d[1] - d[2]));
  s.append("circle").attr("cx", d => xR(d[0])).attr("cy", d => yR(d[1])).attr("r", 1.5).attr("stroke", "none");
}
errorSeries(outputConn, seriesColors[0], 1.4);
errorSeries(inputConn, seriesColors[1], 1.5);
svg.append("line")
  .attr("x1", xR(zeroLineX[0])).attr("x2", xR(zeroLineX[1]))
  .attr("y1", yR(zeroLineY[0])).attr("y2", yR(zeroLineY[1]))
  .attr("stroke", "#ff0000").attr("stroke-width", 3).attr("stroke-dasharray", "9,8");
drawFrame(xR, yR, rightXTicks, rightXTickLabels, rightYTicks, rightYTickLabels);

// Legend
const leg = svg.append("g").attr("transform", "translate(837,77)");
seriesNames.forEach((name, i) => {
  const gy = i * 26;
  const it = leg.append("g").attr("transform", `translate(0,${gy})`).attr("stroke", seriesColors[i]).attr("stroke-width", 1.2);
  it.append("line").attr("x1", 0).attr("x2", 0).attr("y1", -9.5).attr("y2", 9.5);
  it.append("line").attr("x1", -cap).attr("x2", cap).attr("y1", -9.5).attr("y2", -9.5);
  it.append("line").attr("x1", -cap).attr("x2", cap).attr("y1", 9.5).attr("y2", 9.5);
  it.append("circle").attr("r", 1.5).attr("fill", seriesColors[i]).attr("stroke", "none");
  leg.append("text").attr("x", 26).attr("y", gy).attr("dy", "0.35em")
    .attr("font-size", 19.5).text(name);
});

// Titles and axis labels
svg.append("text").attr("x", 548).attr("y", 23).attr("text-anchor", "middle").attr("font-size", 20)
  .text("All Potentiation Learning Rule");
svg.append("text").attr("x", 281).attr("y", 530).attr("text-anchor", "middle").attr("font-size", 22)
  .text("Normalized Baseline Firing Rate");
svg.append("text").attr("x", 845).attr("y", 530).attr("text-anchor", "middle").attr("font-size", 22.5)
  .text("Change in Firing Rate");
svg.append("text").attr("transform", "translate(30,258) rotate(-90)").attr("text-anchor", "middle").attr("font-size", 22)
  .text("Change in Firing Rate");
svg.append("text").attr("transform", "translate(586,268) rotate(-90)").attr("text-anchor", "middle").attr("font-size", 23)
  .text("Average Connection Weight Change");
</script>
</body></html>
